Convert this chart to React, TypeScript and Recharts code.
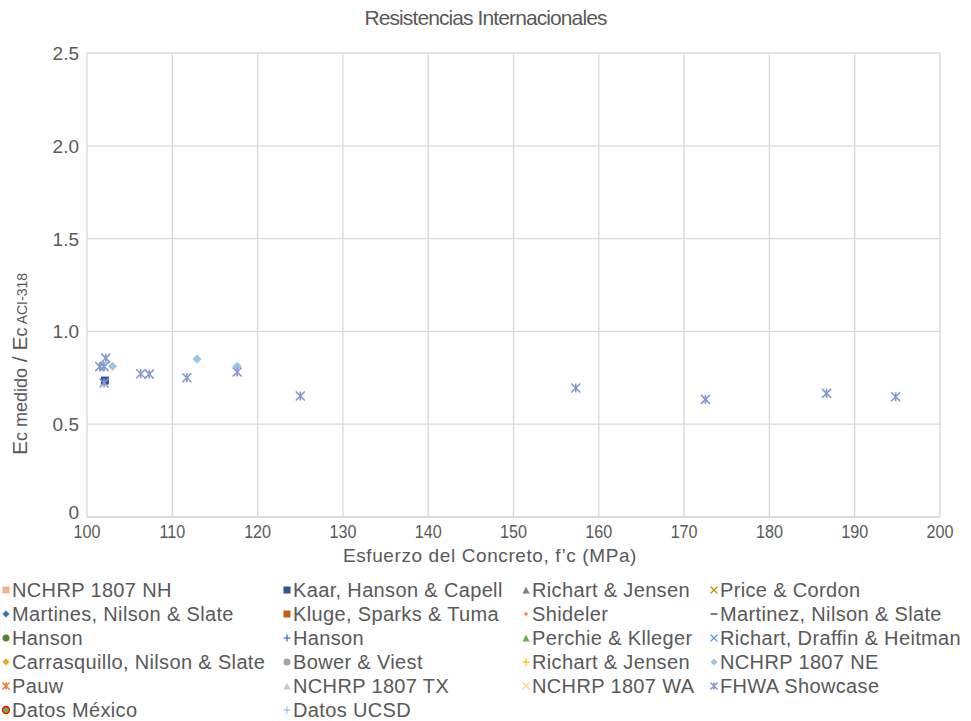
import {
  ScatterChart,
  Scatter,
  XAxis,
  YAxis,
  CartesianGrid,
  Legend,
} from "recharts";

type Pt = { x: number; y: number };

const TITLE = "Resistencias Internacionales";
const X_TITLE = "Esfuerzo del Concreto, f’c (MPa)";
const X_TICKS = [100, 110, 120, 130, 140, 150, 160, 170, 180, 190, 200];
const Y_TICKS = [0, 0.5, 1, 1.5, 2, 2.5];

const fhwaShowcase: Pt[] = [
  { x: 102.2, y: 0.856 },
  { x: 101.5, y: 0.81 },
  { x: 102.0, y: 0.81 },
  { x: 102.0, y: 0.722 },
  { x: 106.3, y: 0.772 },
  { x: 107.3, y: 0.77 },
  { x: 111.7, y: 0.75 },
  { x: 117.6, y: 0.781 },
  { x: 125.0, y: 0.652 },
  { x: 157.3, y: 0.695 },
  { x: 172.5, y: 0.634 },
  { x: 186.7, y: 0.666 },
  { x: 194.8, y: 0.648 },
];
const nchrpNE: Pt[] = [
  { x: 103.0, y: 0.812 },
  { x: 112.9, y: 0.851 },
  { x: 117.6, y: 0.812 },
];
const kaarHansonCapell: Pt[] = [{ x: 102.1, y: 0.735 }];

type Marker = "square" | "triangle" | "x" | "diamond" | "dot" | "dash" | "circle" | "plus" | "star" | "ring";

interface SeriesDef {
  name: string;
  marker: Marker;
  color: string;
  data: Pt[];
}

const SERIES: SeriesDef[] = [
  { name: "NCHRP 1807 NH", marker: "square", color: "#F4B183", data: [] },
  { name: "Kaar, Hanson & Capell", marker: "square", color: "#2F5597", data: kaarHansonCapell },
  { name: "Richart & Jensen", marker: "triangle", color: "#7F7F7F", data: [] },
  { name: "Price & Cordon", marker: "x", color: "#BF9000", data: [] },
  { name: "Martines, Nilson & Slate", marker: "diamond", color: "#2E75B6", data: [] },
  { name: "Kluge, Sparks & Tuma", marker: "square", color: "#C55A11", data: [] },
  { name: "Shideler", marker: "dot", color: "#ED7D31", data: [] },
  { name: "Martinez, Nilson & Slate", marker: "dash", color: "#7F7F7F", data: [] },
  { name: "Hanson", marker: "circle", color: "#548235", data: [] },
  { name: "Hanson", marker: "plus", color: "#4472C4", data: [] },
  { name: "Perchie & Klleger", marker: "triangle", color: "#70AD47", data: [] },
  { name: "Richart, Draffin & Heitman", marker: "x", color: "#5B9BD5", data: [] },
  { name: "Carrasquillo, Nilson & Slate", marker: "diamond", color: "#E8A91E", data: [] },
  { name: "Bower & Viest", marker: "circle", color: "#A5A5A5", data: [] },
  { name: "Richart & Jensen", marker: "plus", color: "#FFC000", data: [] },
  { name: "NCHRP 1807 NE", marker: "diamond", color: "#9DC3E6", data: nchrpNE },
  { name: "Pauw", marker: "star", color: "#ED7D31", data: [] },
  { name: "NCHRP 1807 TX", marker: "triangle", color: "#C9C9C9", data: [] },
  { name: "NCHRP 1807 WA", marker: "x", color: "#FFD28F", data: [] },
  { name: "FHWA Showcase", marker: "star", color: "#8497D4", data: fhwaShowcase },
  { name: "Datos México", marker: "ring", color: "#70AD47", data: [] },
  { name: "Datos UCSD", marker: "plus", color: "#9DC3E6", data: [] },
];

const TEXT = "#595959";
const GRID = "#D9D9D9";
const FONT = "'Liberation Sans', Arial, sans-serif";

function MarkerGlyph({ kind, color, cx, cy, r }: { kind: Marker; color: string; cx: number; cy: number; r: number }) {
  switch (kind) {
    case "square":
      return <rect x={cx - r} y={cy - r} width={2 * r} height={2 * r} fill={color} />;
    case "triangle":
      return <polygon points={`${cx},${cy - r} ${cx + r},${cy + r} ${cx - r},${cy + r}`} fill={color} />;
    case "diamond":
      return <polygon points={`${cx},${cy - r} ${cx + r},${cy} ${cx},${cy + r} ${cx - r},${cy}`} fill={color} />;
    case "dot":
      return <circle cx={cx} cy={cy} r={r * 0.5} fill={color} />;
    case "circle":
      return <circle cx={cx} cy={cy} r={r} fill={color} />;
    case "ring":
      return <circle cx={cx} cy={cy} r={r} fill={color} stroke="#FF0000" strokeWidth={1.3} />;
    case "dash":
      return <line x1={cx - r} y1={cy} x2={cx + r} y2={cy} stroke={color} strokeWidth={2} />;
    case "plus":
      return (
        <g stroke={color} strokeWidth={1.3}>
          <line x1={cx - r} y1={cy} x2={cx + r} y2={cy} />
          <line x1={cx} y1={cy - r} x2={cx} y2={cy + r} />
        </g>
      );
    case "x":
      return (
        <g stroke={color} strokeWidth={1.3}>
          <line x1={cx - r} y1={cy - r} x2={cx + r} y2={cy + r} />
          <line x1={cx - r} y1={cy + r} x2={cx + r} y2={cy - r} />
        </g>
      );
    case "star":
      return (
        <g stroke={color} strokeWidth={1.6}>
          <line x1={cx - r} y1={cy - r} x2={cx + r} y2={cy + r} />
          <line x1={cx - r} y1={cy + r} x2={cx + r} y2={cy - r} />
          <line x1={cx} y1={cy - r} x2={cx} y2={cy + r} />
        </g>
      );
  }
}

function LegendBlock() {
  const cols = [1, 282, 521, 709];
  return (
    <div style={{ position: "relative", width: 971, height: 144, fontFamily: FONT, fontSize: 20, letterSpacing: 0.35, color: TEXT }}>
      {SERIES.map((s, i) => {
        const col = i % 4;
        const row = Math.floor(i / 4);
        return (
          <div
            key={i}
            style={{ position: "absolute", left: cols[col], top: row * 24 + 1, height: 24, display: "flex", alignItems: "center", whiteSpace: "nowrap" }}
          >
            <svg width={10} height={10} style={{ marginRight: 1 }}>
              <MarkerGlyph kind={s.marker} color={s.color} cx={5} cy={5} r={3.5} />
            </svg>
            <span>{s.name}</span>
          </div>
        );
      })}
    </div>
  );
}

function YTitle() {
  return (
    <text
      x={0}
      y={0}
      transform="translate(27, 364) rotate(-90)"
      textAnchor="middle"
      fill={TEXT}
      fontFamily={FONT}
      fontSize={21}
    >
      <tspan>E</tspan>
      <tspan fontSize={18}>c medido</tspan>
      <tspan> / E</tspan>
      <tspan fontSize={18}>c</tspan>
      <tspan fontSize={14}> ACI-318</tspan>
    </text>
  );
}

function XTitle() {
  return (
    <text x={490} y={562} textAnchor="middle" fill={TEXT} fontFamily={FONT} fontSize={19} letterSpacing={0.6}>
      {X_TITLE}
    </text>
  );
}

function XTick({ x, y, payload }: any) {
  return (
    <text
      transform={`translate(${x}, ${y + 13}) scale(0.85, 1)`}
      textAnchor="middle"
      fill={TEXT}
      fontFamily={FONT}
      fontSize={19}
    >
      {payload.value}
    </text>
  );
}

function YTick({ x, y, payload }: any) {
  const v = payload.value as number;
  return (
    <text x={x} y={y + (v === 0 ? 2 : 7)} textAnchor="end" fill={TEXT} fontFamily={FONT} fontSize={19}>
      {v === 0 ? "0" : v.toFixed(1)}
    </text>
  );
}

export default function App() {
  return (
    <div style={{ position: "absolute", left: 0, top: 0, width: 971, height: 721, background: "#fff" }}>
      <div
        style={{
          position: "absolute",
          top: 6,
          width: 971,
          textAlign: "center",
          fontFamily: FONT,
          fontSize: 21,
          color: TEXT,
          letterSpacing: -0.9,
        }}
      >
        {TITLE}
      </div>
      <ScatterChart width={971} height={721} margin={{ top: 53, right: 31, bottom: 0, left: 0 }}>
        <CartesianGrid stroke={GRID} strokeWidth={1.3} horizontal vertical />
        <XAxis
          type="number"
          dataKey="x"
          domain={[100, 200]}
          ticks={X_TICKS}
          interval={0}
          height={60}
          axisLine={{ stroke: GRID, strokeWidth: 1.3 }}
          tickLine={false}
          tick={<XTick />}
          label={<XTitle />}
        />
        <YAxis
          type="number"
          dataKey="y"
          domain={[0, 2.5]}
          ticks={Y_TICKS}
          interval={0}
          width={87}
          axisLine={false}
          tickLine={false}
          tick={<YTick />}
          label={<YTitle />}
        />
        <Legend verticalAlign="bottom" align="left" height={144} content={() => <LegendBlock />} />
        {SERIES.map((s, i) => (
          <Scatter
            key={i}
            name={s.name}
            data={s.data}
            fill={s.color}
            isAnimationActive={false}
            shape={(p: any) => <MarkerGlyph kind={s.marker} color={s.color} cx={p.cx} cy={p.cy} r={s.marker === "square" ? 4 : 4.5} />}
          />
        ))}
      </ScatterChart>
    </div>
  );
}
